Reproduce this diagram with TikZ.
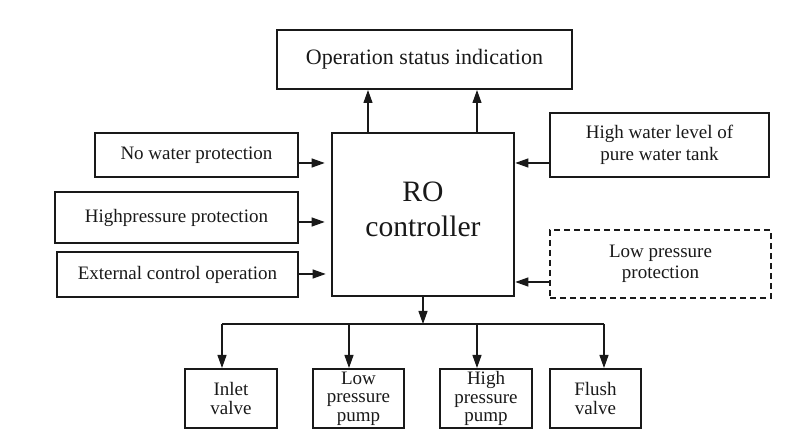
\documentclass[tikz,border=0pt]{standalone}
\usepackage{fontspec}
\setmainfont{Liberation Serif}
\usetikzlibrary{arrows.meta, positioning, calc}
\definecolor{mydark}{RGB}{25,25,25}
\tikzset{
  box/.style={rectangle, draw=mydark, line width=1pt, align=center,
    inner sep=0pt, font=\fontsize{9.5}{10.8}\selectfont, text=mydark},
  smallbox/.style={box, font=\fontsize{9.5}{9.2}\selectfont},
  dashbox/.style={box, dashed, dash pattern=on 3pt off 2pt},
  arrow/.style={-{Triangle[length=6.5pt,width=4.5pt]}, line width=0.6pt, color=mydark},
  line/.style={line width=0.6pt, color=mydark}
}
\begin{document}
\begin{tikzpicture}[x=0.5pt, y=-0.5pt]
  \useasboundingbox (0,0) rectangle (800,444);
  % controller and status
  \node[box, line width=1.3pt, minimum width=91pt, minimum height=81.5pt] (ro) at (423,214.5) {};
  \node[font=\fontsize{14.8}{17.5}\selectfont, align=center, text=mydark] (rotext) at ($(ro.center)+(0,-5)$) {RO\\controller};
  \node[box, font=\fontsize{11}{12}\selectfont, minimum width=147.5pt, minimum height=29.5pt] (status) at (424.5,59.5) {Operation status indication};
  % inputs on the left
  \node[box, minimum width=101.5pt, minimum height=22pt] (nowater) at (196.5,155) {No water protection};
  \node[box, minimum width=121.5pt, minimum height=25.5pt] (highp) at (176.5,217.5) {Highpressure protection};
  \node[box, minimum width=120.5pt, minimum height=22.5pt] (extctl) at (177.5,274.5) {External control operation};
  % inputs on the right
  \node[box, minimum width=109.5pt, minimum height=32pt] (hwlevel) at (659.5,145) {High water level of\\pure water tank};
  \node[dashbox, minimum width=110.5pt, minimum height=34pt] (lowp) at (660.5,264) {Low pressure\\protection};
  % outputs
  \node[smallbox, minimum width=46pt, minimum height=29.5pt] (inlet) at (231,398.5) {Inlet\\valve};
  \node[smallbox, minimum width=45.5pt, minimum height=29.5pt] (lpump) at (358.5,398.5) {Low\\pressure\\pump};
  \node[smallbox, minimum width=46pt, minimum height=29.5pt] (hpump) at (486,398.5) {High\\pressure\\pump};
  \node[smallbox, minimum width=45.5pt, minimum height=29.5pt] (flush) at (595.5,398.5) {Flush\\valve};
  % bus coordinates
  \coordinate (junc) at (ro.south |- 0,324);
  \coordinate (bus1) at (222,324);
  \coordinate (bus2) at (349,324);
  \coordinate (bus3) at (477,324);
  \coordinate (bus4) at (604,324);
  % status arrows
  \draw[arrow] (ro.north -| 368,0) -- (status.south -| 368,0);
  \draw[arrow] (ro.north -| 477,0) -- (status.south -| 477,0);
  % left arrows
  \draw[arrow, shorten >=3pt] (nowater.east |- 0,163) -- (ro.west |- 0,163);
  \draw[arrow, shorten >=3pt] (highp.east |- 0,222) -- (ro.west |- 0,222);
  \draw[arrow, shorten >=2.5pt] (extctl.east |- 0,274) -- (ro.west |- 0,274);
  % right arrows
  \draw[arrow] (hwlevel.west |- 0,163) -- (ro.east |- 0,163);
  \draw[arrow] (lowp.west |- 0,282) -- (ro.east |- 0,282);
  % output bus
  \draw[arrow] (ro.south) -- (junc);
  \draw[line] (bus1) -- (bus4);
  \draw[arrow] (bus1) -- (bus1 |- inlet.north);
  \draw[arrow] (bus2) -- (bus2 |- lpump.north);
  \draw[arrow] (bus3) -- (bus3 |- hpump.north);
  \draw[arrow] (bus4) -- (bus4 |- flush.north);
\end{tikzpicture}
\end{document}
